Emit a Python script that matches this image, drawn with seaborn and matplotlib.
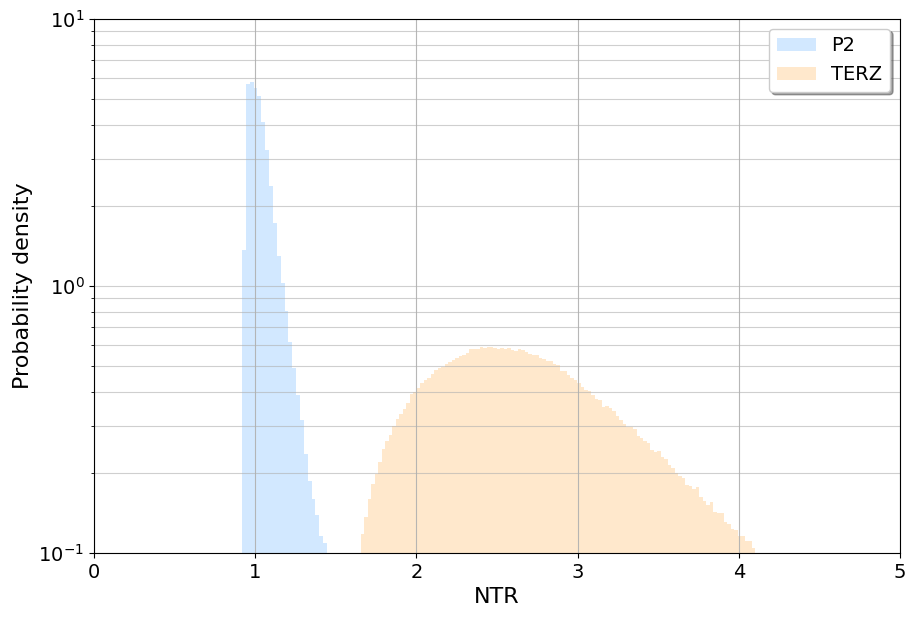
import numpy as np
import pandas as pd
import matplotlib
matplotlib.use("Agg")
import matplotlib.pyplot as plt
import seaborn as sns

# bin heights (probability density)
P2_START = 0.918
P2_WIDTH = 0.0240
p2_density = [1.364, 5.71, 5.81, 5.52, 5.15, 4.11, 3.23, 2.37, 1.717, 1.295,
              1.026, 0.806, 0.617, 0.494, 0.391, 0.315, 0.235, 0.186, 0.159,
              0.139, 0.116, 0.109]

TERZ_START = 1.656
TERZ_WIDTH = 0.02164
terz_density = [
    0.118, 0.136, 0.159, 0.181, 0.198, 0.219, 0.245, 0.263, 0.277, 0.299,
    0.318, 0.332, 0.346, 0.365, 0.394, 0.401, 0.415, 0.433, 0.445, 0.452,
    0.468, 0.485, 0.493, 0.497, 0.510, 0.519, 0.528, 0.537, 0.547, 0.552,
    0.561, 0.581, 0.581, 0.581, 0.591, 0.586, 0.591, 0.591, 0.586, 0.581,
    0.586, 0.581, 0.586, 0.576, 0.571, 0.581, 0.576, 0.566, 0.556, 0.552,
    0.552, 0.537, 0.533, 0.524, 0.524, 0.510, 0.506, 0.481, 0.481, 0.464,
    0.452, 0.445, 0.433, 0.419, 0.408, 0.404, 0.391, 0.377, 0.374, 0.352,
    0.355, 0.349, 0.340, 0.326, 0.315, 0.304, 0.296, 0.296, 0.291, 0.274,
    0.270, 0.263, 0.258, 0.243, 0.239, 0.241, 0.229, 0.225, 0.214, 0.208,
    0.199, 0.194, 0.191, 0.180, 0.178, 0.174, 0.177, 0.162, 0.157, 0.151,
    0.155, 0.142, 0.141, 0.141, 0.131, 0.128, 0.123, 0.122, 0.116, 0.116,
    0.111, 0.111, 0.104,
]

series = [("P2", P2_START, P2_WIDTH, p2_density, "dodgerblue"),
          ("TERZ", TERZ_START, TERZ_WIDTH, terz_density, "darkorange")]

fig, ax = plt.subplots(figsize=(9.16, 6.2), dpi=100)
fig.subplots_adjust(left=0.1026, right=0.9825, top=0.9694, bottom=0.108)

for nome, start, width, dens, cor in series:
    n = len(dens)
    df = pd.DataFrame({
        "ntr": start + width * (np.arange(n) + 0.5),
        "dens": dens,
    })
    sns.histplot(data=df, x="ntr", weights="dens", binwidth=width,
                 binrange=(start, start + width * n), stat="count",
                 color=cor, alpha=0.2, linewidth=0, element="bars",
                 label=nome, ax=ax)

ax.set_yscale("log")
ax.set_xlim(0, 5)
ax.set_ylim(0.1, 10)
ax.set_xlabel("NTR", fontsize=16)
ax.set_ylabel("Probability density", fontsize=16)
ax.tick_params(labelsize=14)
ax.grid(which="both", axis="y", color="#b0b0b0", alpha=0.6, linewidth=0.8)
ax.grid(which="major", axis="x", color="#b0b0b0", alpha=0.9, linewidth=0.8)
ax.legend(fontsize=14, fancybox=True, shadow=True, loc="upper right")

fig.savefig("out.png", dpi=100)
